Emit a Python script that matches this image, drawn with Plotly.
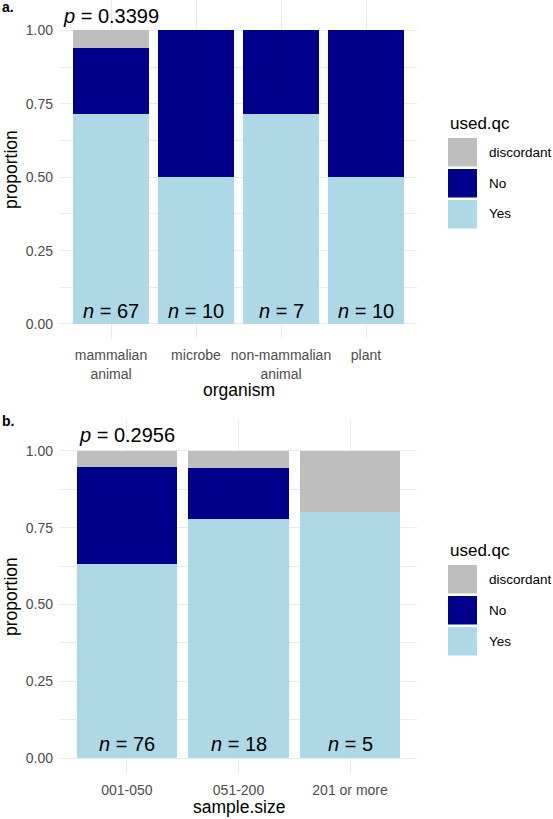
import plotly.graph_objects as go

# ---------------- data ----------------
levels = ["discordant", "No", "Yes"]
colors = {"discordant": "#BEBEBE", "No": "#00008B", "Yes": "#ADD8E6"}

organism = ["mammalian animal", "microbe", "non-mammalian animal", "plant"]
organism_labels = ["mammalian<br>animal", "microbe", "non-mammalian<br>animal", "plant"]
org_yes = [48, 5, 5, 5]
org_no = [15, 5, 2, 5]
org_disc = [4, 0, 0, 0]
org_n = [67, 10, 7, 10]
org_p = "0.3399"

sample_size = ["001-050", "051-200", "201 or more"]
ss_yes = [48, 14, 4]
ss_no = [24, 3, 0]
ss_disc = [4, 1, 1]
ss_n = [76, 18, 5]
ss_p = "0.2956"

# ---------------- layout helpers ----------------
W, H = 553, 819
FONT = "Liberation Sans, Arial, sans-serif"
GRID = "#EBEBEB"


def px(x):
    return x / W


def py(y):
    return 1 - y / H


fig = go.Figure()


def add_panel(cats, yes, no, disc, xa, ya):
    tot = [a + b + c for a, b, c in zip(yes, no, disc)]
    for name, vals in (("Yes", yes), ("No", no), ("discordant", disc)):
        fig.add_trace(go.Bar(
            x=cats, y=[v / t for v, t in zip(vals, tot)], name=name,
            marker=dict(color=colors[name], line=dict(width=0)),
            xaxis=xa, yaxis=ya, showlegend=False, hoverinfo="skip"))


add_panel(organism, org_yes, org_no, org_disc, "x", "y")
add_panel(sample_size, ss_yes, ss_no, ss_disc, "x2", "y2")

TICK = dict(family=FONT, size=14, color="#4D4D4D")
yrange = [-0.0525, 1.1025]
ytick = dict(tickvals=[0, 0.25, 0.5, 0.75, 1.0], ticktext=["0.00", "0.25", "0.50", "0.75", "1.00"])
ycommon = dict(range=yrange, showgrid=True, gridcolor=GRID, gridwidth=1, zeroline=False,
               showline=False, ticks="", tickfont=TICK,
               ticklabelstandoff=6, automargin=False,
               minor=dict(tickvals=[0.125, 0.375, 0.625, 0.875], showgrid=True,
                          gridcolor=GRID, gridwidth=0.6), **ytick)
xcommon = dict(type="category", showgrid=True, gridcolor=GRID, gridwidth=1, zeroline=False,
               showline=False, ticks="", tickfont=TICK,
               ticklabelstandoff=6, automargin=False)

fig.update_layout(
    width=W, height=H, margin=dict(l=0, r=0, t=0, b=0),
    paper_bgcolor="white", plot_bgcolor="white",
    barmode="stack", bargap=0.1, showlegend=False,
    font=dict(family=FONT, color="black"),
    xaxis=dict(domain=[px(60), px(417)], anchor="y", range=[-0.6, len(organism) - 0.4],
               tickvals=organism, ticktext=organism_labels, **xcommon),
    yaxis=dict(domain=[py(339.4), py(0.4)], anchor="x", **ycommon),
    xaxis2=dict(domain=[px(60), px(417)], anchor="y2", range=[-0.6, len(sample_size) - 0.4],
                tickvals=sample_size, ticktext=sample_size, **xcommon),
    yaxis2=dict(domain=[py(774.4), py(419.2)], anchor="x2", **ycommon),
)

ann = []
# p values and n labels
for cats, ns, p, xr, yr in ((organism, org_n, org_p, "x", "y"), (sample_size, ss_n, ss_p, "x2", "y2")):
    ann.append(dict(x=cats[0], y=1.05, xref=xr, yref=yr, text="<i>p</i> = " + p, showarrow=False,
                    font=dict(family=FONT, size=20, color="black"), xanchor="center", yanchor="middle"))
    for c, n in zip(cats, ns):
        ann.append(dict(x=c, y=0.045, xref=xr, yref=yr, text="<i>n</i> = %d" % n, showarrow=False,
                        font=dict(family=FONT, size=20, color="black"), xanchor="center", yanchor="middle"))

# axis titles and panel tags
title_font = dict(family=FONT, size=17.5, color="black")
ann += [
    dict(x=px(238.5), y=py(390), xref="paper", yref="paper", text="organism", showarrow=False,
         font=title_font, xanchor="center", yanchor="middle"),
    dict(x=px(238.5), y=py(807), xref="paper", yref="paper", text="sample.size", showarrow=False,
         font=title_font, xanchor="center", yanchor="middle"),
    dict(x=px(11), y=py(170), xref="paper", yref="paper", text="proportion", showarrow=False,
         font=title_font, textangle=-90, xanchor="center", yanchor="middle"),
    dict(x=px(11), y=py(597), xref="paper", yref="paper", text="proportion", showarrow=False,
         font=title_font, textangle=-90, xanchor="center", yanchor="middle"),
    dict(x=px(0), y=py(7), xref="paper", yref="paper", text="<b>a.</b>", showarrow=False,
         font=dict(family=FONT, size=14, color="black"), xanchor="left", yanchor="middle"),
    dict(x=px(0), y=py(421), xref="paper", yref="paper", text="<b>b.</b>", showarrow=False,
         font=dict(family=FONT, size=14, color="black"), xanchor="left", yanchor="middle"),
]

# legends (one per panel)
shapes = []
for title_y, first_top in ((123, 138), (550, 565)):
    ann.append(dict(x=px(448), y=py(title_y), xref="paper", yref="paper", text="used.qc",
                    showarrow=False, font=dict(family=FONT, size=17, color="black"),
                    xanchor="left", yanchor="middle"))
    for i, lev in enumerate(levels):
        top = first_top + i * 31
        shapes.append(dict(type="rect", xref="paper", yref="paper", x0=px(448), x1=px(477),
                           y0=py(top + 28.5), y1=py(top), fillcolor=colors[lev], line=dict(width=0)))
        ann.append(dict(x=px(487), y=py(top + 14), xref="paper", yref="paper", text=lev,
                        showarrow=False, font=dict(family=FONT, size=13.5, color="black"),
                        xanchor="left", yanchor="middle"))

fig.update_layout(annotations=ann, shapes=shapes)
fig.write_html("out.html", config={"displayModeBar": False},
               post_script="document.body.style.margin='0';document.body.style.overflow='hidden';")
